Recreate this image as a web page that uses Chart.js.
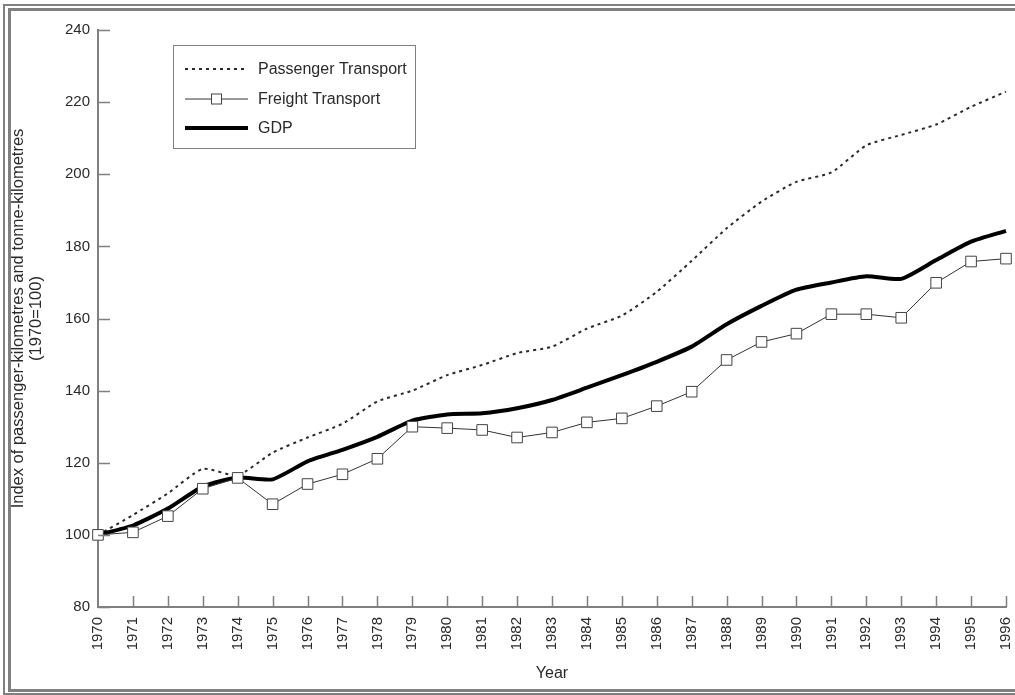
<!DOCTYPE html>
<html>
<head>
<meta charset="utf-8">
<title>Transport and GDP index 1970-1996</title>
<script src="https://cdn.jsdelivr.net/npm/chart.js@4.4.1/dist/chart.umd.min.js"></script>
<style>
    html, body {
        margin: 0;
        padding: 0;
        width: 1015px;
        height: 695px;
        overflow: hidden;
        background: #ffffff;
    }
    /* double grey frame round the figure */
    .frame-outer {
        position: absolute;
        left: 3px;
        top: 4px;
        width: 1040px;
        height: 687px;
        border: 2px solid #808080;
    }
    .frame-inner {
        position: absolute;
        left: 8px;
        top: 8px;
        width: 1040px;
        height: 678px;
        border: 3px solid #808080;
    }
    #transportChart {
        position: absolute;
        left: 0;
        top: 0;
    }
</style>
</head>
<body>
<div class="frame-outer"></div>
<div class="frame-inner"></div>
<canvas id="transportChart" width="1015" height="695"></canvas>

<script>
// Chart data (index, 1970 = 100)
// ===============================
const years = ['1970', '1971', '1972', '1973', '1974', '1975', '1976', '1977', '1978',
    '1979', '1980', '1981', '1982', '1983', '1984', '1985', '1986', '1987', '1988',
    '1989', '1990', '1991', '1992', '1993', '1994', '1995', '1996'];

const passengerTransport = [100, 105.5, 111.5, 118.3, 116.5, 122.8, 127.0, 130.8, 137.0,
    140.0, 144.3, 147.1, 150.4, 152.2, 157.2, 160.8, 167.4, 176.0, 185.0,
    192.4, 197.9, 200.5, 208.0, 210.9, 213.8, 218.7, 222.9];

const freightTransport = [100, 100.7, 105.2, 112.8, 115.8, 108.5, 114.1, 116.8, 121.1,
    130.0, 129.6, 129.1, 127.0, 128.4, 131.2, 132.3, 135.7, 139.7, 148.5,
    153.5, 155.8, 161.2, 161.2, 160.2, 169.9, 175.8, 176.6];

const gdp = [100, 102.6, 107.3, 113.4, 115.9, 115.4, 120.4, 123.6, 127.2,
    131.7, 133.4, 133.7, 135.1, 137.4, 140.8, 144.3, 148.0, 152.2, 158.4,
    163.5, 168.0, 170.0, 171.7, 171.0, 176.2, 181.3, 184.3];

const seriesLabels = ['Passenger Transport', 'Freight Transport', 'GDP'];

const yMin = 80;
const yMax = 240;
const yStep = 20;

const FONT = '"Liberation Sans", Arial, Helvetica, sans-serif';
const AXIS_GREY = '#808080';
const TEXT_COLOR = '#2a2a2a';

// Ticks in this figure point into the plot, so draw them ourselves
const inwardTicks = {
    id: 'inwardTicks',
    afterDraw(chart) {
        const ctx = chart.ctx;
        const x = chart.scales.x;
        const y = chart.scales.y;
        ctx.save();
        ctx.strokeStyle = AXIS_GREY;
        ctx.lineWidth = 1.5;
        ctx.beginPath();
        y.ticks.forEach(function(t) {
            const py = Math.round(y.getPixelForValue(t.value)) + 0.5;
            ctx.moveTo(y.right, py);
            ctx.lineTo(y.right + 12, py);
        });
        x.ticks.forEach(function(t, i) {
            if (i === 0) return;
            const px = Math.round(x.getPixelForTick(i)) + 0.5;
            ctx.moveTo(px, x.top);
            ctx.lineTo(px, x.top - 11);
        });
        ctx.stroke();
        ctx.restore();
    }
};

// Boxed legend sitting inside the plot, top left
const boxedLegend = {
    id: 'boxedLegend',
    afterDraw(chart) {
        const ctx = chart.ctx;
        const left = 173, top = 45, width = 242, height = 103;
        const rows = [69, 99, 128];
        const lineStart = 185, lineEnd = 248, textX = 258;

        ctx.save();
        ctx.fillStyle = '#ffffff';
        ctx.fillRect(left, top, width, height);
        ctx.strokeStyle = AXIS_GREY;
        ctx.lineWidth = 1;
        ctx.strokeRect(left + 0.5, top + 0.5, width, height);

        chart.data.datasets.forEach(function(ds, i) {
            const ry = rows[i];
            ctx.strokeStyle = ds.borderColor;
            ctx.lineWidth = ds.borderWidth;
            ctx.setLineDash(ds.borderDash || []);
            ctx.beginPath();
            ctx.moveTo(lineStart, ry);
            ctx.lineTo(lineEnd, ry);
            ctx.stroke();
            ctx.setLineDash([]);

            if (ds.pointStyle === 'rect') {
                const s = 10;
                const cx = (lineStart + lineEnd) / 2;
                ctx.fillStyle = ds.pointBackgroundColor;
                ctx.fillRect(cx - s / 2, ry - s / 2, s, s);
                ctx.strokeStyle = ds.pointBorderColor;
                ctx.lineWidth = 1;
                ctx.strokeRect(cx - s / 2, ry - s / 2, s, s);
            }

            ctx.fillStyle = TEXT_COLOR;
            ctx.font = '16px ' + FONT;
            ctx.textBaseline = 'middle';
            ctx.textAlign = 'left';
            ctx.fillText(ds.label, textX, ry + 1);
        });
        ctx.restore();
    }
};

const ctx = document.getElementById('transportChart');

new Chart(ctx, {
    type: 'line',
    data: {
        labels: years,
        datasets: [
            {
                label: seriesLabels[0],
                data: passengerTransport,
                borderColor: '#2a2a2a',
                borderWidth: 2,
                borderDash: [3, 4],
                pointRadius: 0,
                tension: 0.2,
                order: 2
            },
            {
                label: seriesLabels[1],
                data: freightTransport,
                borderColor: '#333333',
                borderWidth: 1,
                pointStyle: 'rect',
                pointRadius: 7.5,
                pointBackgroundColor: '#ffffff',
                pointBorderColor: '#444444',
                pointBorderWidth: 1,
                tension: 0,
                clip: false,
                order: 0
            },
            {
                label: seriesLabels[2],
                data: gdp,
                borderColor: '#000000',
                borderWidth: 4,
                pointRadius: 0,
                tension: 0.2,
                order: 1
            }
        ]
    },
    options: {
        responsive: false,
        maintainAspectRatio: false,
        animation: false,
        layout: {
            padding: { left: 0, top: 30, right: 9, bottom: 0 }
        },
        plugins: {
            legend: { display: false },
            tooltip: { enabled: false }
        },
        scales: {
            x: {
                type: 'category',
                offset: false,
                grid: { display: false, drawTicks: false },
                border: { display: true, color: AXIS_GREY, width: 2 },
                ticks: {
                    autoSkip: false,
                    maxRotation: 90,
                    minRotation: 90,
                    padding: 10,
                    color: TEXT_COLOR,
                    font: { family: FONT, size: 15 }
                },
                title: {
                    display: true,
                    text: 'Year',
                    color: TEXT_COLOR,
                    font: { family: FONT, size: 16 },
                    padding: { top: 0, bottom: 12 }
                },
                afterFit: function(scale) {
                    // keep the plot running right up to the frame edge
                    scale.height = 88;
                    scale.paddingLeft = 0;
                    scale.paddingRight = 0;
                }
            },
            y: {
                min: yMin,
                max: yMax,
                grid: { display: false, drawTicks: false },
                border: { display: true, color: AXIS_GREY, width: 2 },
                ticks: {
                    stepSize: yStep,
                    padding: 8,
                    color: TEXT_COLOR,
                    font: { family: FONT, size: 15 }
                },
                title: {
                    display: true,
                    text: ['Index of passenger-kilometres and tonne-kilometres', '(1970=100)'],
                    color: TEXT_COLOR,
                    font: { family: FONT, size: 16.5, lineHeight: 1.05 },
                    padding: { top: 10, bottom: 0 }
                },
                afterFit: function(scale) {
                    scale.width = 98;
                    scale.paddingTop = 0;
                    scale.paddingBottom = 0;
                }
            }
        }
    },
    plugins: [inwardTicks, boxedLegend]
});
</script>
</body>
</html>
